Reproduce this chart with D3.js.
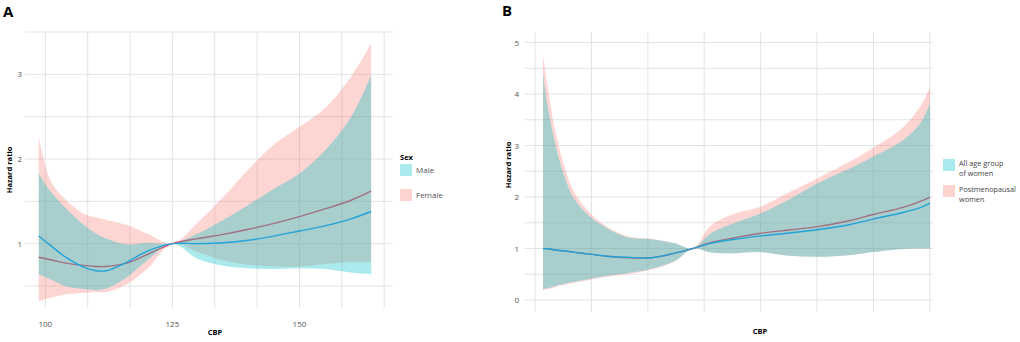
<!DOCTYPE html>
<meta charset="utf-8">
<style>
html, body {
  margin: 0;
  padding: 0;
  background: #fff;
}
svg text {
  font-family: "Open Sans", "DejaVu Sans", sans-serif;
}
</style>
<script src="https://d3js.org/d3.v7.min.js"></script>

<div id="chart"></div>

<script>

// ---- panel A : sex ----
const cbpA      = [98.7, 101, 104, 108, 110, 112, 116, 120, 125, 130, 135, 140, 145, 150, 155, 160, 164.1];
const femaleFit = [0.84, 0.81, 0.77, 0.74, 0.73, 0.73, 0.77, 0.87, 1.00, 1.06, 1.11, 1.17, 1.24, 1.32, 1.41, 1.51, 1.62];
const femaleLo  = [0.32, 0.36, 0.40, 0.42, 0.43, 0.43, 0.52, 0.70, 1.00, 0.90, 0.80, 0.75, 0.73, 0.73, 0.76, 0.78, 0.78];
const femaleHi  = [2.26, 1.75, 1.52, 1.34, 1.31, 1.28, 1.22, 1.12, 1.00, 1.25, 1.55, 1.88, 2.17, 2.38, 2.60, 2.96, 3.36];
const maleFit   = [1.09, 0.98, 0.84, 0.71, 0.68, 0.68, 0.78, 0.91, 1.00, 1.00, 1.01, 1.04, 1.09, 1.15, 1.21, 1.29, 1.38];
const maleLo    = [0.64, 0.58, 0.50, 0.46, 0.45, 0.47, 0.60, 0.80, 1.00, 0.82, 0.74, 0.71, 0.70, 0.71, 0.70, 0.66, 0.64];
const maleHi    = [1.83, 1.62, 1.42, 1.20, 1.12, 1.06, 0.99, 1.01, 1.00, 1.12, 1.28, 1.46, 1.65, 1.83, 2.10, 2.48, 2.99];

const xTicksA = [100, 125, 150];
const yTicksA = [1, 2, 3];
const seriesA = ["Male", "Female"];

// ---- panel B : women ----
const cbpB    = [100, 100.6, 101.2, 102, 103.4, 105, 107.8, 110.6, 114, 118, 122, 125, 128, 132, 136, 141, 146, 151, 155, 160, 163, 164.5];
const allFit  = [1.00, 0.995, 0.99, 0.97, 0.955, 0.93, 0.89, 0.85, 0.83, 0.82, 0.91, 1.00, 1.10, 1.18, 1.24, 1.30, 1.37, 1.46, 1.57, 1.70, 1.80, 1.88];
const allLo   = [0.21, 0.23, 0.24, 0.27, 0.31, 0.35, 0.41, 0.47, 0.52, 0.60, 0.76, 1.00, 0.92, 0.91, 0.93, 0.86, 0.84, 0.87, 0.93, 0.99, 1.00, 1.00];
const allHi   = [4.40, 3.88, 3.50, 3.05, 2.46, 2.00, 1.62, 1.40, 1.22, 1.18, 1.10, 1.00, 1.30, 1.50, 1.67, 1.95, 2.28, 2.55, 2.78, 3.10, 3.45, 3.82];
const postFit = [1.00, 0.995, 0.99, 0.97, 0.955, 0.93, 0.89, 0.85, 0.82, 0.82, 0.91, 1.00, 1.12, 1.21, 1.29, 1.36, 1.43, 1.54, 1.66, 1.80, 1.92, 2.00];
const postLo  = [0.19, 0.21, 0.22, 0.25, 0.29, 0.33, 0.39, 0.45, 0.50, 0.59, 0.75, 1.00, 0.92, 0.91, 0.93, 0.86, 0.84, 0.87, 0.93, 0.99, 1.00, 1.00];
const postHi  = [4.76, 4.27, 3.82, 3.30, 2.66, 2.14, 1.69, 1.43, 1.24, 1.19, 1.10, 1.00, 1.45, 1.68, 1.80, 2.09, 2.38, 2.68, 2.95, 3.35, 3.78, 4.13];

const yTicksB = [0, 1, 2, 3, 4, 5];
const seriesB = [["All age group", "of women"], ["Postmenopausal", "women"]];

const fillCyan = "#00BFC4", fillPink = "#F8766D";
const gridCol = "#e3e3e3";

const svg = d3.select("#chart").append("svg")
    .attr("width", 1020)
    .attr("height", 342);

// helper to zip arrays into row objects
function rows(xs, fit, lo, hi) {
  return xs.map((x, i) => ({x: x, fit: fit[i], lo: lo[i], hi: hi[i]}));
}

function drawPanel(g, x, y, xGrid, yGrid, bands) {
  const [x0, x1] = x.range(), [y0, y1] = y.range();

  g.append("g").selectAll("line").data(yGrid).join("line")
    .attr("x1", x0).attr("x2", x1)
    .attr("y1", d => y(d)).attr("y2", d => y(d))
    .attr("stroke", gridCol).attr("stroke-width", 1);
  g.append("g").selectAll("line").data(xGrid).join("line")
    .attr("y1", y0).attr("y2", y1)
    .attr("x1", d => x(d)).attr("x2", d => x(d))
    .attr("stroke", gridCol).attr("stroke-width", 1);

  const area = d3.area()
    .x(d => x(d.x)).y0(d => y(d.lo)).y1(d => y(d.hi))
    .curve(d3.curveCatmullRom.alpha(0.5));
  const line = d3.line()
    .x(d => x(d.x)).y(d => y(d.fit))
    .curve(d3.curveCatmullRom.alpha(0.5));

  // pink band, its line, then cyan band over it, then cyan line on top
  const [pink, cyan] = bands;
  g.append("path").datum(pink.data)
    .attr("fill", fillPink).attr("fill-opacity", 0.3).attr("d", area);
  g.append("path").datum(pink.data)
    .attr("fill", "none").attr("stroke", "#ec4a62").attr("stroke-width", 1.4).attr("d", line);
  g.append("path").datum(cyan.data)
    .attr("fill", fillCyan).attr("fill-opacity", 0.33).attr("d", area);
  g.append("path").datum(cyan.data)
    .attr("fill", "none").attr("stroke", "#22a3d9").attr("stroke-width", 1.4).attr("d", line);
}

// ---------- A ----------
const xA = d3.scaleLinear().domain([96, 168.4]).range([25, 393]);
const yA = d3.scaleLinear().domain([0.24, 3.5]).range([308, 32]);
const gA = svg.append("g");

drawPanel(gA, xA, yA,
  d3.range(0, 9).map(i => 100 + i * 25 / 3),
  d3.range(1, 8).map(i => i * 0.5),
  [{data: rows(cbpA, femaleFit, femaleLo, femaleHi)},
   {data: rows(cbpA, maleFit, maleLo, maleHi)}]);

gA.append("g").selectAll("text").data(yTicksA).join("text")
  .attr("x", 22).attr("y", d => yA(d) + 3)
  .attr("text-anchor", "end").attr("font-size", 8).attr("fill", "#555")
  .text(d => d);
gA.append("g").selectAll("text").data(xTicksA).join("text")
  .attr("x", d => xA(d)).attr("y", 327)
  .attr("text-anchor", "middle").attr("font-size", 8).attr("fill", "#555")
  .text(d => d);

gA.append("text").attr("x", 3).attr("y", 17)
  .attr("font-family", "Liberation Sans, Arial, sans-serif")
  .attr("font-size", 15).attr("font-weight", "bold").text("A");
gA.append("text").attr("transform", "translate(12,170) rotate(-90)")
  .attr("text-anchor", "middle").attr("font-size", 7.5).attr("font-weight", "bold")
  .text("Hazard ratio");
gA.append("text").attr("x", 215).attr("y", 335)
  .attr("text-anchor", "middle").attr("font-size", 7.5).attr("font-weight", "bold")
  .text("CBP");

// legend A
gA.append("text").attr("x", 400).attr("y", 160)
  .attr("font-size", 7.5).attr("font-weight", "bold").text("Sex");
const legA = gA.append("g").selectAll("g").data(seriesA).join("g")
  .attr("transform", (d, i) => `translate(400,${164 + i * 25})`);
legA.append("rect").attr("width", 12).attr("height", 12)
  .attr("fill", (d, i) => i === 0 ? fillCyan : fillPink).attr("fill-opacity", 0.33);
legA.append("text").attr("x", 16).attr("y", 9)
  .attr("font-size", 8).attr("fill", "#555").text(d => d);

// ---------- B ----------
const xB = d3.scaleLinear().domain([97, 165]).range([525, 933]);
const yB = d3.scaleLinear().domain([-0.233, 5.204]).range([312, 32]);
const gB = svg.append("g");

drawPanel(gB, xB, yB,
  d3.range(0, 8).map(i => 98.67 + i * 9.4),
  d3.range(0, 11).map(i => i * 0.5),
  [{data: rows(cbpB, postFit, postLo, postHi)},
   {data: rows(cbpB, allFit, allLo, allHi)}]);

gB.append("g").selectAll("text").data(yTicksB).join("text")
  .attr("x", 519).attr("y", d => yB(d) + 3)
  .attr("text-anchor", "end").attr("font-size", 8).attr("fill", "#555")
  .text(d => d);

gB.append("text").attr("x", 502).attr("y", 16)
  .attr("font-family", "Liberation Sans, Arial, sans-serif")
  .attr("font-size", 15).attr("font-weight", "bold").text("B");
gB.append("text").attr("transform", "translate(511,165) rotate(-90)")
  .attr("text-anchor", "middle").attr("font-size", 7.5).attr("font-weight", "bold")
  .text("Hazard ratio");
gB.append("text").attr("x", 760).attr("y", 334)
  .attr("text-anchor", "middle").attr("font-size", 7.5).attr("font-weight", "bold")
  .text("CBP");

// legend B
const legB = gB.append("g").selectAll("g").data(seriesB).join("g")
  .attr("transform", (d, i) => `translate(943,${159 + i * 26})`);
legB.append("rect").attr("width", 12).attr("height", 12)
  .attr("fill", (d, i) => i === 0 ? fillCyan : fillPink).attr("fill-opacity", 0.33);
legB.append("text").attr("x", 16).attr("y", 7)
  .attr("font-size", 7.3).attr("fill", "#444")
  .selectAll("tspan").data(d => d).join("tspan")
    .attr("x", 16).attr("dy", (d, i) => i === 0 ? 0 : 9.5)
    .text(d => d);

</script>
